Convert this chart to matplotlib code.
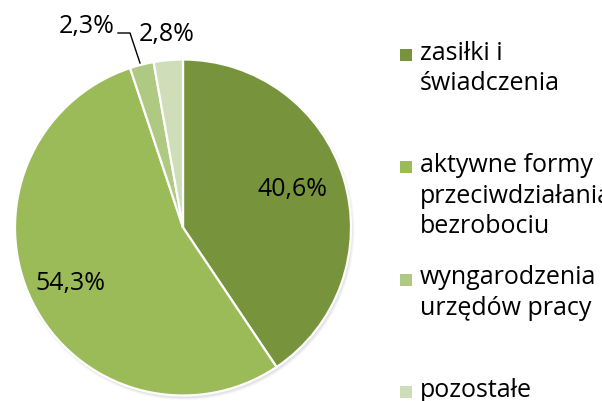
import matplotlib.pyplot as plt
from matplotlib.patches import Circle, Rectangle

plt.rcParams['font.family'] = ['Open Sans', 'DejaVu Sans']

kategorie = ['zasiłki i\nświadczenia', 'aktywne formy\nprzeciwdziałania\nbezrobociu',
             'wyngarodzenia\nurzędów pracy', 'pozostałe']
udzialy = [40.6, 54.3, 2.3, 2.8]
etykiety = ['40,6%', '54,3%', '2,3%', '2,8%']
kolory = ['#77933C', '#9BBB59', '#AFC983', '#CFDDB8']

fig = plt.figure(figsize=(6.02, 4.01), dpi=100)
ax = fig.add_axes([0, 0, 1, 1])
ax.set_xlim(0, 602)
ax.set_ylim(0, 401)
ax.set_aspect('equal')
ax.axis('off')

cx, cy, r = 183, 173.5, 168

# delikatny cien pod kolem
for i, a in enumerate([0.05, 0.07, 0.1]):
    ax.add_patch(Circle((cx + 1.5, cy - 2.5), r + 2 - i, color='#7f7f7f', alpha=a, lw=0, zorder=0))

wedges, _ = ax.pie(udzialy, colors=kolory, startangle=90, counterclock=False,
                   center=(cx, cy), radius=r, frame=True,
                   wedgeprops=dict(edgecolor='white', linewidth=1.6))
ax.set_xlim(0, 602)
ax.set_ylim(0, 401)
ax.axis('off')

fs = 18
ax.text(cx + 109, cy + 38, etykiety[0], fontsize=fs, ha='center', va='center')
ax.text(cx - 113, cy - 56, etykiety[1], fontsize=fs, ha='center', va='center')
ax.text(87, 401 - 27, etykiety[2], fontsize=fs, ha='center', va='center')
ax.text(167, 401 - 35, etykiety[3], fontsize=fs, ha='center', va='center')
ax.plot([118, 130, 140], [401 - 33, 401 - 33, 401 - 63], color='black', lw=1)

# legenda
for i, (nazwa, kol) in enumerate(zip(kategorie, kolory)):
    y0 = 401 - (54.5 + i * 112.5)
    ax.add_patch(Rectangle((400, y0 - 6), 12, 12, color=kol, lw=0))
    ax.text(420, y0 + 14, nazwa, fontsize=fs, ha='left', va='top', linespacing=1.3)

fig.savefig('out.png', dpi=100)
